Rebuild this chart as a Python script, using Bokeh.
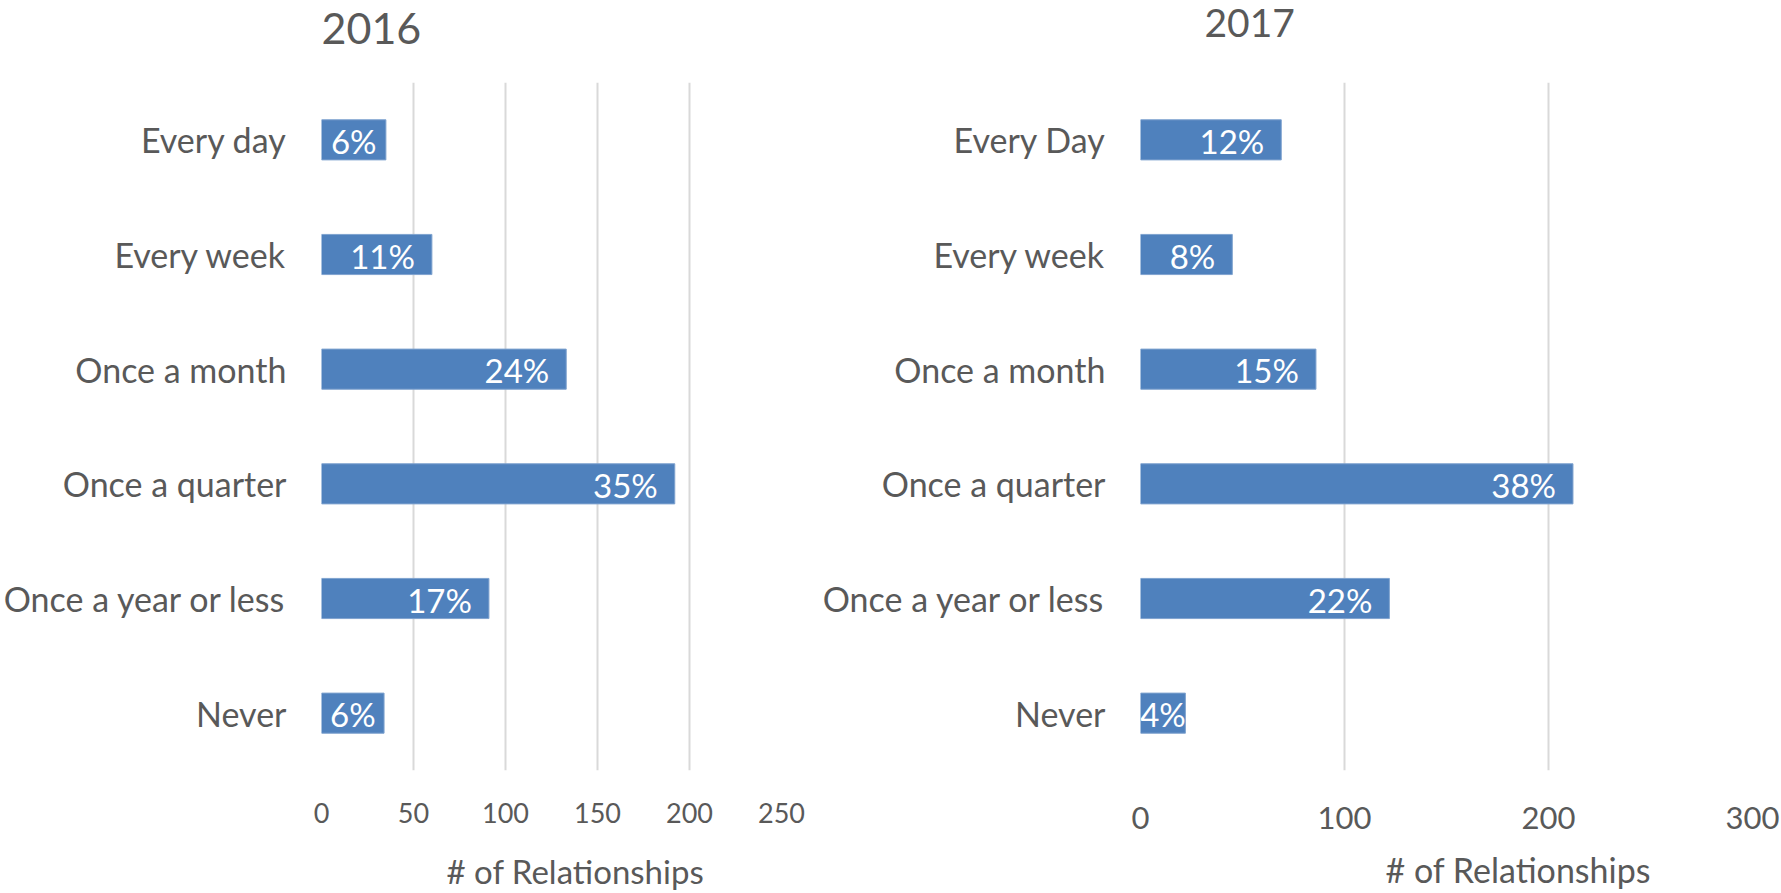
from bokeh.plotting import figure
from bokeh.models import FactorRange, Range1d, FixedTicker, Label
from bokeh.layouts import row, column
from bokeh.embed import file_html
from bokeh.resources import INLINE
from bokeh.core.properties import value

# ---- data ----
cats_2016 = ["Every day", "Every week", "Once a month", "Once a quarter", "Once a year or less", "Never"]
vals_2016 = [35, 60, 133, 192, 91, 34]
pct_2016 = ["6%", "11%", "24%", "35%", "17%", "6%"]
ticks_2016 = [0, 50, 100, 150, 200, 250]

cats_2017 = ["Every Day", "Every week", "Once a month", "Once a quarter", "Once a year or less", "Never"]
vals_2017 = [69, 45, 86, 212, 122, 22]
pct_2017 = ["12%", "8%", "15%", "38%", "22%", "4%"]
ticks_2017 = [0, 100, 200, 300]

xlabel = "# of Relationships"

FONT = "Lato"
GREY = "#595959"
BLUE = "#4F81BD"

H_TITLE = 60      # strip holding the year title
H_MAIN = 783      # bar chart
H_XLAB = 49       # strip holding the axis title
FRAME_TOP = 22
FRAME_H = 688


def text_strip(width, height, bl, br, text, x, y, size):
    # frame of this strip is aligned with the chart's frame below/above it
    f = figure(width=width, height=height, x_axis_type=None, y_axis_type=None,
               output_backend="svg", toolbar_location=None,
               min_border_left=bl, min_border_right=br,
               min_border_top=0, min_border_bottom=0)
    f.outline_line_color = None
    f.background_fill_color = "white"
    f.border_fill_color = "white"
    f.add_layout(Label(text=text, x=x, y=y, x_units="screen", y_units="screen",
                       text_font=FONT, text_font_size=size, text_color=GREY,
                       text_baseline="middle", text_align="left"))
    return f


def chart(cats, vals, pcts, ticks, xmax, width, bl, br, tick_size, tick_standoff):
    frame_w = width - bl - br
    p = figure(width=width, height=H_MAIN,
               y_range=FactorRange(factors=list(reversed(cats))),
               x_range=Range1d(0, xmax),
               output_backend="svg", toolbar_location=None,
               min_border_left=bl, min_border_right=br,
               min_border_top=FRAME_TOP, min_border_bottom=H_MAIN - FRAME_TOP - FRAME_H)
    p.outline_line_color = None
    p.background_fill_color = "white"
    p.border_fill_color = "white"

    p.hbar(y=cats, left=0, right=vals, height=0.35,
           fill_color=BLUE, line_color="#7FA3CF", line_width=1)

    # data labels: inside end, centred when the bar is too short
    r_x, r_y, r_t, c_x, c_y, c_t = [], [], [], [], [], []
    for c, v, t in zip(cats, vals, pcts):
        px = v / xmax * frame_w
        if px < 80:
            c_x.append(v / 2); c_y.append(c); c_t.append(t)
        else:
            r_x.append(v); r_y.append(c); r_t.append(t)
    p.text(x=r_x, y=r_y, text=r_t, text_align="right", text_baseline="middle",
           x_offset=-17, y_offset=1, text_color="white", text_font=value(FONT),
           text_font_size="33px")
    p.text(x=c_x, y=c_y, text=c_t, text_align="center", text_baseline="middle",
           y_offset=1, text_color="white", text_font=value(FONT),
           text_font_size="33px")

    for ax in (p.xaxis, p.yaxis):
        ax.axis_line_color = None
        ax.major_tick_line_color = None
        ax.minor_tick_line_color = None
        ax.major_tick_out = 0
        ax.major_tick_in = 0
        ax.minor_tick_out = 0
        ax.minor_tick_in = 0
        ax.major_label_text_font = FONT
        ax.major_label_text_color = GREY

    p.xaxis.ticker = FixedTicker(ticks=ticks)
    p.xaxis.major_label_text_font_size = tick_size
    p.xaxis.major_label_standoff = tick_standoff

    p.yaxis.major_label_text_font_size = "34px"
    p.yaxis.major_label_standoff = 35

    p.ygrid.grid_line_color = None
    p.xgrid.grid_line_color = "#D9D9D9"
    p.xgrid.grid_line_width = 2
    return p


W1, W2 = 810, 970
BL1, BR1 = 319, 29
BL2, BR2 = 330, 28

col1 = column(
    text_strip(W1, H_TITLE, BL1, BR1, "2016", x=0, y=32, size="43px"),
    chart(cats_2016, vals_2016, pct_2016, ticks_2016, 250, W1, BL1, BR1,
          tick_size="27px", tick_standoff=32),
    text_strip(W1, H_XLAB, BL1, BR1, xlabel, x=125, y=22, size="33px"),
)
col2 = column(
    text_strip(W2, H_TITLE, BL2, BR2, "2017", x=64, y=38, size="39px"),
    chart(cats_2017, vals_2017, pct_2017, ticks_2017, 300, W2, BL2, BR2,
          tick_size="31px", tick_standoff=36),
    text_strip(W2, H_XLAB, BL2, BR2, xlabel, x=245, y=23, size="34px"),
)

layout = row(col1, col2)
open("out.html", "w").write(file_html(layout, INLINE))
